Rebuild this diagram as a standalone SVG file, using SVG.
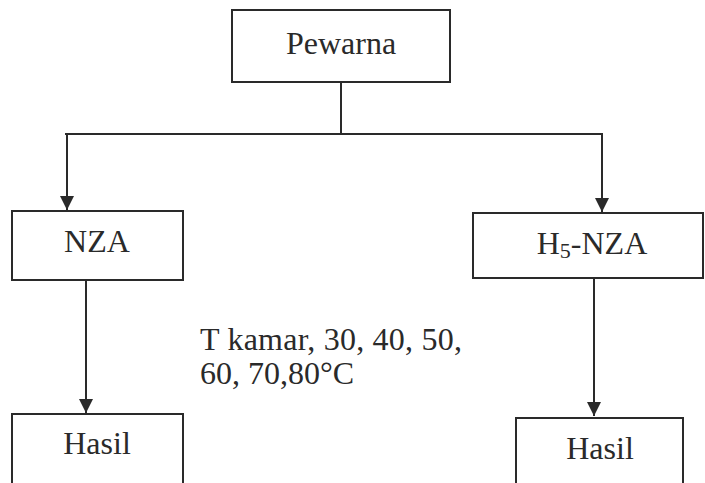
<svg xmlns="http://www.w3.org/2000/svg" width="705" height="483" viewBox="0 0 705 483">
<style>
.box{fill:#fff;stroke:#2a2a2a;stroke-width:2}
.t{font-family:"Liberation Serif",serif;font-size:32px;fill:#2a2a2a}
.c{text-anchor:middle}
.ln{stroke:#2a2a2a;stroke-width:2;fill:none}
</style>
<defs>
<marker id="ah" viewBox="0 0 10 10" refX="10" refY="5" markerWidth="14" markerHeight="14" markerUnits="userSpaceOnUse" orient="auto">
<path d="M0,0 L10,5 L0,10 z" fill="#2a2a2a"/>
</marker>
</defs>
<rect width="705" height="483" fill="#fff"/>
<g id="connectors">
<path class="ln" d="M341,82 V134"/>
<path class="ln" d="M65,134 H603"/>
<path class="ln" d="M67,134 V210" marker-end="url(#ah)"/>
<path class="ln" d="M602,134 V212" marker-end="url(#ah)"/>
<path class="ln" d="M86,280 V413" marker-end="url(#ah)"/>
<path class="ln" d="M594,278 V416" marker-end="url(#ah)"/>
</g>
<g id="pewarna"><rect class="box" x="232" y="10" width="218" height="72"/><text class="t c" x="341" y="54">Pewarna</text></g>
<g id="nza"><rect class="box" x="12" y="211" width="171" height="69"/><text class="t c" x="97" y="252">NZA</text></g>
<g id="h5nza"><rect class="box" x="473" y="213" width="230" height="65"/><text class="t c" x="592" y="254">H<tspan font-size="22" dy="4">5</tspan><tspan dy="-4">-NZA</tspan></text></g>
<g id="hasil1"><rect class="box" x="12" y="414" width="171" height="80"/><text class="t c" x="97" y="454">Hasil</text></g>
<g id="hasil2"><rect class="box" x="516" y="418" width="167" height="80"/><text class="t c" x="600" y="459">Hasil</text></g>
<g id="label" font-size="30"><text class="t" x="200" y="350" font-size="30" textLength="262">T kamar, 30, 40, 50,</text><text class="t" x="200" y="384" font-size="30">60, 70,80°C</text></g>
</svg>
